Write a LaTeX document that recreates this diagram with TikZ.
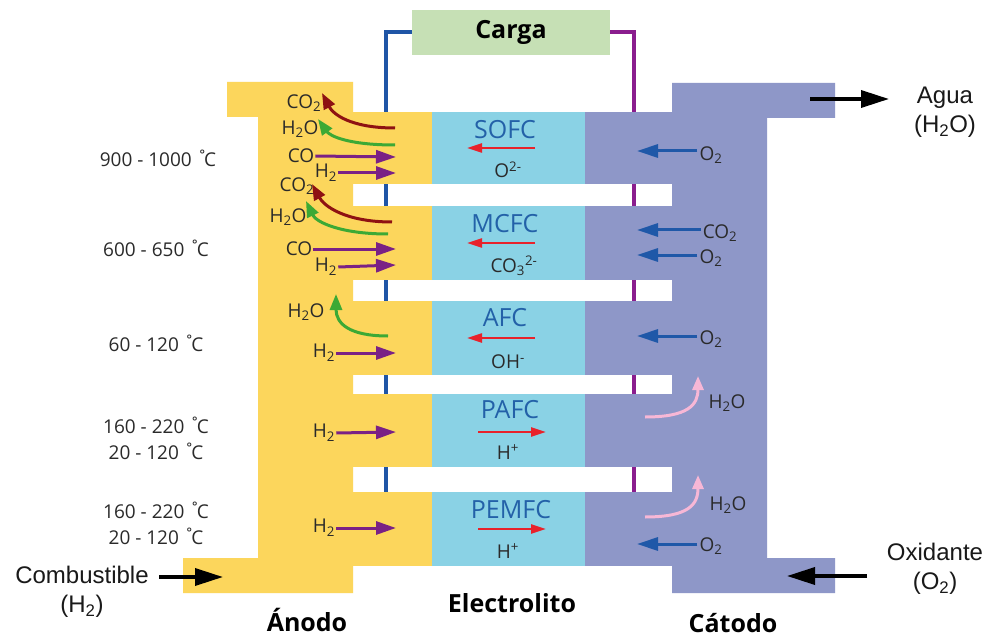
\documentclass[tikz,border=0pt]{standalone}
\usepackage{fontspec}
\setmainfont{Open Sans}
\newfontfamily\arialf{Liberation Sans}
\usetikzlibrary{arrows.meta}
\definecolor{anodeY}{HTML}{FCD65C}
\definecolor{electB}{HTML}{8AD2E5}
\definecolor{cathP}{HTML}{8E97C8}
\definecolor{cargaG}{HTML}{C6E0B5}
\definecolor{wireB}{HTML}{1F55A6}
\definecolor{wireP}{HTML}{8A1D8E}
\definecolor{cellB}{HTML}{2361A8}
\definecolor{ionR}{HTML}{E8222B}
\definecolor{arrP}{HTML}{7A2185}
\definecolor{arrDR}{HTML}{8E1212}
\definecolor{arrG}{HTML}{3CA935}
\definecolor{arrB}{HTML}{1F58A8}
\definecolor{arrPk}{HTML}{F7B7D6}
\definecolor{txtD}{HTML}{2A2A2A}
\newcommand{\dn}[1]{\textsubscript{#1}}
\newcommand{\up}[1]{\textsuperscript{#1}}
\newcommand{\degc}{\ \raisebox{0.1ex}{˚}\kern-3.5pt C}
\tikzset{
  lbl/.style={font=\fontsize{19}{21}\selectfont, text=txtD, inner sep=0pt},
  temp/.style={font=\fontsize{19}{21}\selectfont, text=txtD, inner sep=0pt},
  cellname/.style={font=\fontsize{25}{27}\selectfont, text=cellB, inner sep=0pt},
  bigl/.style={font=\fontsize{25}{28}\selectfont\bfseries, text=black, inner sep=0pt},
  extl/.style={font=\arialf\fontsize{24}{29}\selectfont, text=black!90, align=center, inner sep=0pt},
  cargabox/.style={fill=cargaG, minimum width=198pt, minimum height=45pt, inner sep=0pt,
     font=\fontsize{25}{28}\selectfont\bfseries},
  bluewire/.style={draw=wireB, line width=4pt},
  purwire/.style={draw=wireP, line width=4pt},
  parr/.style={draw=arrP, line width=3pt, -{Triangle[length=20pt,width=13pt]}},
  drarr/.style={draw=arrDR, line width=3pt, -{Triangle[length=16pt,width=12pt]}},
  garr/.style={draw=arrG, line width=3pt, -{Triangle[length=16pt,width=12pt]}},
  barr/.style={draw=arrB, line width=3pt, -{Triangle[length=21pt,width=13pt]}},
  pkarr/.style={draw=arrPk, line width=3pt, -{Triangle[length=14pt,width=11pt]}},
  rarr/.style={draw=ionR, line width=2.2pt, -{Triangle[length=15pt,width=9pt]}},
  karr/.style={draw=black, line width=3.5pt, -{Triangle[length=28pt,width=17pt]}},
}
\begin{document}
\begin{tikzpicture}[x=1pt,y=-1pt]
\useasboundingbox (0,0) rectangle (985,639);
\fill[white] (0,0) rectangle (985,639);

% wires (behind the cell blocks)
\node[cargabox] (carga) at (511,32.5) {Carga};
\coordinate (bwBot) at (386,492);
\coordinate (pwBot) at (634,492);
\draw[bluewire] (bwBot) -- (bwBot |- carga.west) -- (carga.west);
\draw[purwire] (pwBot) -- (pwBot |- carga.east) -- (carga.east);
\node[cargabox] at (carga) {Carga};

% anode
\fill[anodeY] (227,82) -- (353,82) -- (353,593) -- (183,593) -- (183,558) -- (258,558) -- (258,117) -- (227,117) -- cycle;
% cathode
\fill[cathP] (672,83) -- (835,83) -- (835,118) -- (767,118) -- (767,558) -- (835,558) -- (835,593) -- (672,593) -- cycle;
% rows
\foreach \ya/\yb in {112/184, 206/280, 301/375, 394/467, 492/566}{
  \fill[anodeY] (352,\ya) rectangle (432,\yb);
  \fill[electB] (432,\ya) rectangle (585,\yb);
  \fill[cathP] (585,\ya) rectangle (673,\yb);
}

% temperatures
\node[temp] (t1) at (158,158) {900 - 1000\degc};
\node[temp] (t2) at (156,248) {600 - 650\degc};
\node[temp] (t3) at (156,343) {60 - 120\degc};
\node[temp] (t4) at (156,425) {160 - 220\degc};
\node[temp] (t5) at (156,451) {20 - 120\degc};
\node[temp] (t6) at (156,510) {160 - 220\degc};
\node[temp] (t7) at (156,536) {20 - 120\degc};

% cell names and ions
\node[cellname] (sofc) at (505,130) {SOFC};
\node[cellname] (mcfc) at (505,224) {MCFC};
\node[cellname] (afc) at (505,318) {AFC};
\node[cellname] (pafc) at (510,410) {PAFC};
\node[cellname] (pemfc) at (511,510) {PEMFC};
\node[lbl] (ion1) at (508,170) {O\up{2-}};
\node[lbl] (ion2) at (514,266) {CO\dn{3}\up{2-}};
\node[lbl] (ion3) at (508,362) {OH\up{-}};
\node[lbl] (ion4) at (508,452) {H\up{+}};
\node[lbl] (ion5) at (508,551) {H\up{+}};
\coordinate (e1a) at (535,148); \coordinate (e1b) at (467,148);
\coordinate (e2a) at (535,243); \coordinate (e2b) at (467,243);
\coordinate (e3a) at (535,338); \coordinate (e3b) at (467,338);
\coordinate (e4a) at (478,432); \coordinate (e4b) at (546,432);
\coordinate (e5a) at (478,529); \coordinate (e5b) at (546,529);
\draw[rarr] (e1a) -- (e1b);
\draw[rarr] (e2a) -- (e2b);
\draw[rarr] (e3a) -- (e3b);
\draw[rarr] (e4a) -- (e4b);
\draw[rarr] (e5a) -- (e5b);

% anode side, SOFC
\node[lbl] (sco2) at (304,103) {CO\dn{2}};
\node[lbl] (sh2o) at (300,129) {H\dn{2}O};
\node[lbl] (sco) at (301,156) {CO};
\node[lbl] (sh2) at (326,173) {H\dn{2}};
\coordinate (s1) at (395,128); \coordinate (s1t) at (322,93);
\coordinate (s2) at (395,145); \coordinate (s2t) at (318,119);
\coordinate (s3) at (396,157); \coordinate (s4) at (396,173);
\draw[drarr] (s1) .. controls (350,128) and (333,114) .. (s1t);
\draw[garr] (s2) .. controls (348,145) and (330,136) .. (s2t);
\draw[parr] (sco.east) ++(1,0) -- (s3);
\draw[parr] (sh2.east) ++(1,0) -- (s4);

% anode side, MCFC
\node[lbl] (mco2) at (297,186) {CO\dn{2}};
\node[lbl] (mh2o) at (288,217) {H\dn{2}O};
\node[lbl] (mco) at (299,249) {CO};
\node[lbl] (mh2) at (326,267) {H\dn{2}};
\coordinate (m1) at (392,222); \coordinate (m1t) at (312,184);
\coordinate (m2) at (388,234); \coordinate (m2t) at (306,201);
\coordinate (m3) at (396,249); \coordinate (m4) at (396,265);
\draw[drarr] (m1) .. controls (345,222) and (324,206) .. (m1t);
\draw[garr] (m2) .. controls (340,234) and (316,222) .. (m2t);
\draw[parr] (mco.east) ++(1,0) -- (m3);
\draw[parr] (mh2.east) ++(1,0) -- (m4);

% anode side, AFC
\node[lbl] (ah2o) at (306,312) {H\dn{2}O};
\node[lbl] (ah2) at (324,353) {H\dn{2}};
\coordinate (a1) at (388,336); \coordinate (a1t) at (336,294);
\coordinate (a2) at (396,353);
\draw[garr] (a1) .. controls (350,336) and (336,324) .. (a1t);
\draw[parr] (ah2.east) ++(1,0) -- (a2);

% anode side, PAFC and PEMFC
\node[lbl] (ph2) at (324,433) {H\dn{2}};
\node[lbl] (eh2) at (324,528) {H\dn{2}};
\coordinate (p1) at (396,432); \coordinate (q1) at (396,528);
\draw[parr] (ph2.east) ++(1,0) -- (p1);
\draw[parr] (eh2.east) ++(1,0) -- (q1);

% cathode side
\node[lbl] (co1) at (711,155) {O\dn{2}};
\node[lbl] (co2) at (720,233) {CO\dn{2}};
\node[lbl] (co3) at (711,258) {O\dn{2}};
\node[lbl] (co4) at (711,339) {O\dn{2}};
\node[lbl] (co5) at (711,546) {O\dn{2}};
\coordinate (c1) at (637,151); \coordinate (c2) at (637,230);
\coordinate (c3) at (637,255); \coordinate (c4) at (637,336);
\coordinate (c5) at (637,544);
\draw[barr] (co1.west |- c1) ++(-2,0) -- (c1);
\draw[barr] (co2.west |- c2) ++(-2,0) -- (c2);
\draw[barr] (co3.west |- c3) ++(-2,0) -- (c3);
\draw[barr] (co4.west |- c4) ++(-2,0) -- (c4);
\draw[barr] (co5.west |- c5) ++(-2,0) -- (c5);
\node[lbl] (cw1) at (727,403) {H\dn{2}O};
\node[lbl] (cw2) at (728,505) {H\dn{2}O};
\coordinate (w1) at (645,417); \coordinate (w1t) at (698,376);
\coordinate (w2) at (645,517); \coordinate (w2t) at (698,475);
\draw[pkarr] (w1) .. controls (688,417) and (698,405) .. (w1t);
\draw[pkarr] (w2) .. controls (688,517) and (698,505) .. (w2t);

% external flows
\node[extl] (agua) at (945,112) {Agua\\(H\dn{2}O)};
\node[extl] (oxid) at (935,569) {Oxidante\\(O\dn{2})};
\node[extl] (comb) at (82,592) {Combustible\\(H\dn{2})};
\coordinate (ag0) at (810,99); \coordinate (ag1) at (889,99);
\coordinate (ox0) at (867,576); \coordinate (ox1) at (787,576);
\coordinate (cb0) at (159,577); \coordinate (cb1) at (223,577);
\draw[karr] (ag0) -- (ag1);
\draw[karr] (ox0) -- (ox1);
\draw[karr] (cb0) -- (cb1);

% bottom labels
\node[bigl] (anodo) at (307,620) {Ánodo};
\node[bigl] (electro) at (512,603) {Electrolito};
\node[bigl] (catodo) at (733,623) {Cátodo};
\end{tikzpicture}
\end{document}
